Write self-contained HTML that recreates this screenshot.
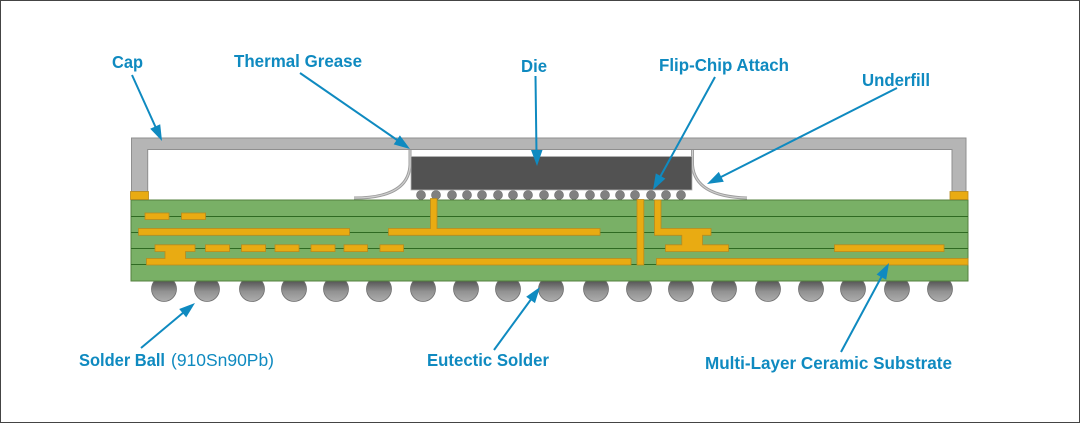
<!DOCTYPE html>
<html><head><meta charset="utf-8"><style>
html,body{margin:0;padding:0;background:#fff}
svg{display:block}
text{font-family:"Liberation Sans",sans-serif;font-size:17.5px;font-weight:bold;fill:#0f8ac0}
.t{fill:#e9ab12;stroke:#b98a1c;stroke-width:.8}
.l{stroke:#2f6a22;stroke-width:1;fill:none}
.a{stroke:#0f8ac0;stroke-width:2;fill:none}
.h{fill:#0f8ac0}
.b{fill:url(#bg);stroke:#707070;stroke-width:.8}
.m{fill:#808080;stroke:#6a6a6a;stroke-width:.6}
.g{fill:none;stroke:#9c9c9c;stroke-width:3}
.g2{fill:none;stroke:#cfcfcf;stroke-width:1.2}
</style></head><body>
<svg width="1080" height="423" viewBox="0 0 1080 423" xmlns="http://www.w3.org/2000/svg">
<defs><linearGradient id="bg" x1="0" y1="0" x2="0" y2="1"><stop offset=".18" stop-color="#555"/><stop offset=".6" stop-color="#929292"/><stop offset="1" stop-color="#adadad"/></linearGradient></defs>
<rect x=".5" y=".5" width="1079" height="422" fill="#fff" stroke="#444" stroke-width="1"/>

<!-- balls -->
<circle class="b" cx="164" cy="289" r="12.5"/><circle class="b" cx="207" cy="289" r="12.5"/><circle class="b" cx="252" cy="289" r="12.5"/><circle class="b" cx="294" cy="289" r="12.5"/><circle class="b" cx="336" cy="289" r="12.5"/><circle class="b" cx="379" cy="289" r="12.5"/><circle class="b" cx="423" cy="289" r="12.5"/><circle class="b" cx="466" cy="289" r="12.5"/><circle class="b" cx="508" cy="289" r="12.5"/><circle class="b" cx="551" cy="289" r="12.5"/><circle class="b" cx="596" cy="289" r="12.5"/><circle class="b" cx="639" cy="289" r="12.5"/><circle class="b" cx="681" cy="289" r="12.5"/><circle class="b" cx="724" cy="289" r="12.5"/><circle class="b" cx="768" cy="289" r="12.5"/><circle class="b" cx="811" cy="289" r="12.5"/><circle class="b" cx="853" cy="289" r="12.5"/><circle class="b" cx="897" cy="289" r="12.5"/><circle class="b" cx="940" cy="289" r="12.5"/>

<!-- substrate -->
<rect x="131" y="200" width="837" height="81" fill="#79b066" stroke="#54803f" stroke-width="1"/>
<path class="l" d="M131 216.500H968M131 232.500H968M131 248.500H968M131 264.500H968"/>

<!-- cap -->
<path d="M131.500 191.500V138H966V191.500H952V149.500H147.700V191.500Z" fill="#b5b5b5" stroke="#8f8f8f" stroke-width="1"/>
<rect x="130.500" y="191.500" width="18" height="8" class="t"/>
<rect x="950" y="191.500" width="18" height="8" class="t"/>

<!-- grease -->
<path class="g" d="M410 150V165C409 186 392 198 354 198"/>
<path class="g2" d="M410 150V165C409 186 392 198 354 198"/>
<path class="g" d="M692.500 150V165C694 186 712 197 747 198"/>
<path class="g2" d="M692.500 150V165C694 186 712 197 747 198"/>

<!-- die -->
<rect x="411" y="156.500" width="281" height="33.500" fill="#525252" stroke="#b5b5b5" stroke-width=".8"/>

<!-- bumps -->
<circle class="m" cx="421" cy="195" r="4.500"/><circle class="m" cx="436" cy="195" r="4.500"/><circle class="m" cx="452" cy="195" r="4.500"/><circle class="m" cx="467" cy="195" r="4.500"/><circle class="m" cx="482" cy="195" r="4.500"/><circle class="m" cx="498" cy="195" r="4.500"/><circle class="m" cx="513" cy="195" r="4.500"/><circle class="m" cx="528" cy="195" r="4.500"/><circle class="m" cx="544" cy="195" r="4.500"/><circle class="m" cx="559" cy="195" r="4.500"/><circle class="m" cx="574" cy="195" r="4.500"/><circle class="m" cx="590" cy="195" r="4.500"/><circle class="m" cx="605" cy="195" r="4.500"/><circle class="m" cx="620" cy="195" r="4.500"/><circle class="m" cx="635" cy="195" r="4.500"/><circle class="m" cx="651" cy="195" r="4.500"/><circle class="m" cx="666" cy="195" r="4.500"/><circle class="m" cx="681" cy="195" r="4.500"/>

<!-- traces -->
<rect class="t" x="145" y="213" width="24" height="6.500"/>
<rect class="t" x="181.500" y="213" width="24" height="6.500"/>
<rect class="t" x="138.500" y="228.500" width="211" height="6.800"/>
<rect class="t" x="205.500" y="244.800" width="24" height="6.800"/>
<rect class="t" x="241.500" y="244.800" width="24" height="6.800"/>
<rect class="t" x="275" y="244.800" width="24" height="6.800"/>
<rect class="t" x="311" y="244.800" width="24" height="6.800"/>
<rect class="t" x="344" y="244.800" width="23.500" height="6.800"/>
<rect class="t" x="380" y="244.800" width="23.500" height="6.800"/>
<path class="t" d="M155 244.800H195V251.500H185.500V258.500H631V265H146.500V258.500H165V251.500H155Z"/>
<path class="t" d="M430.500 198.500H437V228.500H600V235.300H388.500V228.500H430.500Z"/>
<rect class="t" x="637" y="199.500" width="6.800" height="65.500"/>
<path class="t" d="M654.500 200H661V228.500H711V235.300H702.500V244.800H728.500V251.500H665.500V244.800H681.800V235.300H654.500Z"/>
<rect class="t" x="656.500" y="258.500" width="311.500" height="6.500"/>
<rect class="t" x="834.500" y="244.800" width="109.500" height="6.800"/>

<!-- arrows -->
<path class="a" d="M132 75L156 128M300 73L400 142M535.500 76L536.500 154M715 77L659 179M897 88L719 178M141 348L184 312M494 350L532 298M841 352L883 274"/>
<path class="h" d="M162 141L150.200 128.800L160.200 124.200Z"/>
<path class="h" d="M410 149L393.700 144.400L399.900 135.400Z"/>
<path class="h" d="M537 166L531 150H542.500Z"/>
<path class="h" d="M653 190L655.800 173.400L665.400 178.600Z"/>
<path class="h" d="M707 184L718.800 171.900L723.800 181.700Z"/>
<path class="h" d="M195 303L186.200 317.400L179.200 309Z"/>
<path class="h" d="M540 287L535 303.100L526.200 296.700Z"/>
<path class="h" d="M889 263L886.200 279.700L876.600 274.500Z"/>

<!-- labels -->
<text x="112" y="68" textLength="31" lengthAdjust="spacingAndGlyphs">Cap</text>
<text x="234" y="67" textLength="128" lengthAdjust="spacingAndGlyphs">Thermal Grease</text>
<text x="521" y="72" textLength="26" lengthAdjust="spacingAndGlyphs">Die</text>
<text x="659" y="71" textLength="130" lengthAdjust="spacingAndGlyphs">Flip-Chip Attach</text>
<text x="862" y="86" textLength="68" lengthAdjust="spacingAndGlyphs">Underfill</text>
<text x="79" y="366" textLength="86" lengthAdjust="spacingAndGlyphs">Solder Ball</text>
<text x="171" y="366" textLength="103" lengthAdjust="spacingAndGlyphs" style="font-weight:normal">(910Sn90Pb)</text>
<text x="427" y="366" textLength="122" lengthAdjust="spacingAndGlyphs">Eutectic Solder</text>
<text x="705" y="369" textLength="247" lengthAdjust="spacingAndGlyphs">Multi-Layer Ceramic Substrate</text>
</svg>
</body></html>
